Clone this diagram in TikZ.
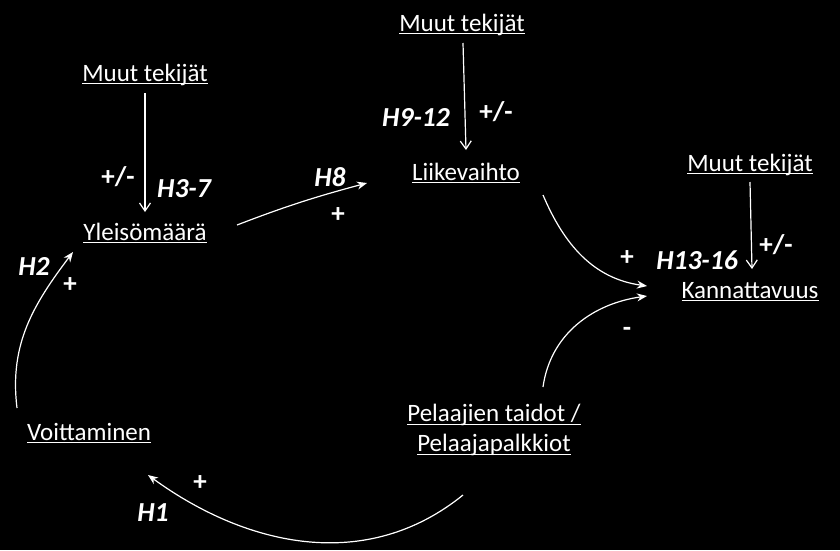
\documentclass[tikz,border=0pt]{standalone}
\usepackage{fontspec}
\setmainfont{Carlito}
\usetikzlibrary{arrows.meta}

% alleviivaus
\newcommand{\alle}[1]{\leavevmode\setbox0=\hbox{#1}\rlap{\rule[-3.4pt]{\wd0}{1.4pt}}\box0}

\tikzset{
    tekija/.style={text=white, anchor=base, inner sep=0pt, font=\fontsize{25}{30}\selectfont},
    merkki/.style={text=white, inner sep=0pt, font=\fontsize{27}{30}\selectfont\bfseries},
    hypo/.style={text=white, inner sep=0pt, font=\fontsize{27.5}{30}\selectfont\bfseries\itshape},
    suora/.style={draw=white, line width=1.2pt, -{Straight Barb[length=8pt,width=11pt]}},
    kaari/.style={draw=white, line width=1.2pt, -{Stealth[length=10pt,width=8pt]}}
}

\begin{document}
\begin{tikzpicture}[x=1pt,y=1pt]

    % Tausta
    \fill[black] (0,0) rectangle (840,-550);
    \useasboundingbox (0,0) rectangle (840,-550);

    % Muuttujat
    \node[tekija] (muut1) at (145,-81) {\alle{Muut tekijät}};
    \node[tekija] (yleiso) at (145,-240) {\alle{Yleisömäärä}};
    \node[tekija] (muut2) at (462,-31) {\alle{Muut tekijät}};
    \node[tekija] (liike) at (466,-180) {\alle{Liikevaihto}};
    \node[tekija] (muut3) at (750,-171) {\alle{Muut tekijät}};
    \node[tekija] (kann) at (750,-298) {\alle{Kannattavuus}};
    \node[tekija] (voitto) at (89,-440) {\alle{Voittaminen}};
    \node[tekija, anchor=center, align=center] (pelaaja) at (494,-430)
        {\alle{Pelaajien taidot /}\\\alle{Pelaajapalkkiot}};

    % Muut tekijat -> muuttujat
    \draw[suora] ([yshift=-12]muut1.base) -- ([yshift=28]yleiso.base);
    \draw[suora] ([shift={(1,-12)}]muut2.base) -- ([yshift=30]liike.base);
    \draw[suora] ([yshift=-11]muut3.base) -- ([shift={(2,29)}]kann.base);

    % Kaaret
    \draw[kaari] ([shift={(92,15)}]yleiso.base) to[out=21,in=195] ([shift={(-99,-3)}]liike.base);
    \draw[kaari] ([shift={(77,-15)}]liike.base) to[out=-67,in=172] ([shift={(-103,12)}]kann.base);
    \draw[kaari] ([shift={(49,43)}]pelaaja.center) to[out=82,in=-172] ([shift={(-103,2)}]kann.base);
    \draw[kaari] ([shift={(-31,-65)}]pelaaja.center) to[out=-141,in=-36] ([shift={(59,-35)}]voitto.base);
    \draw[kaari] ([shift={(-72,32)}]voitto.base) to[out=97,in=-127] ([shift={(-72,-12)}]yleiso.base);

    % Hypoteesit
    \node[hypo] (h1) at (153,-513) {H1};
    \node[hypo] (h2) at (34,-266) {H2};
    \node[hypo] (h37) at (184,-189) {H3-7};
    \node[hypo] (h8) at (330,-177) {H8};
    \node[hypo] (h912) at (416,-117) {H9-12};
    \node[hypo] (h1316) at (697,-260) {H13-16};

    % Etumerkit
    \node[merkki] (pm1) at (118,-177) {+/-};
    \node[merkki] (pm2) at (496,-112) {+/-};
    \node[merkki] (pm3) at (776,-245) {+/-};
    \node[merkki] (p1) at (200,-483) {+};
    \node[merkki] (p2) at (70,-285) {+};
    \node[merkki] (p8) at (338,-215) {+};
    \node[merkki] (p13) at (627,-258) {+};
    \node[merkki] (m13) at (627,-332) {-};

\end{tikzpicture}
\end{document}
